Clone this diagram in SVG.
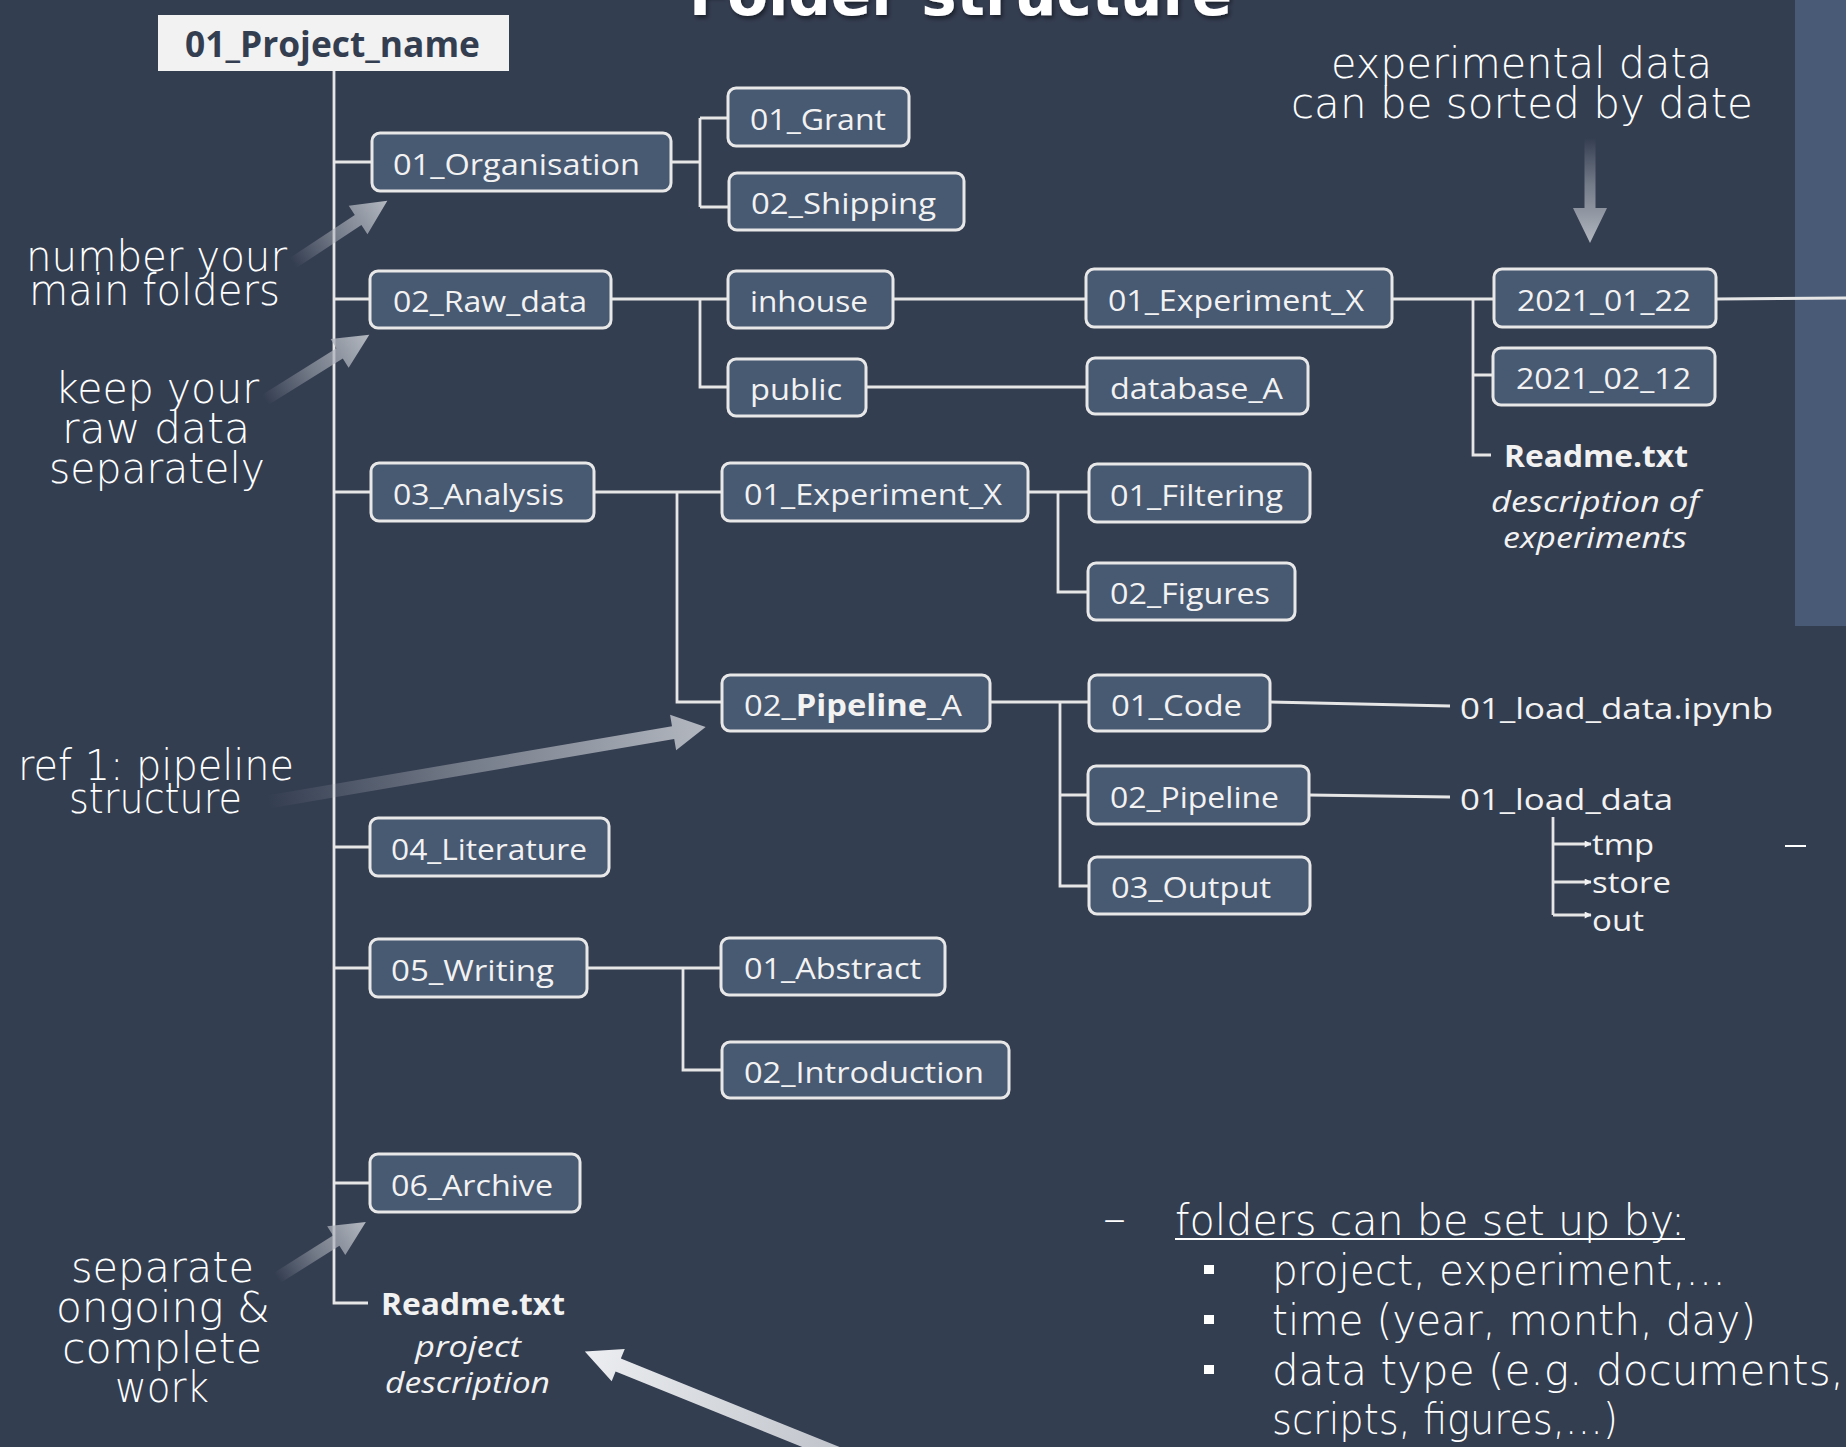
<svg xmlns="http://www.w3.org/2000/svg" width="1846" height="1447" viewBox="0 0 1846 1447">
<style>
.bg{fill:#343e51}
.panel{fill:#485a75}
.box rect{fill:#485972;stroke:#e8e8e8;stroke-width:3}
.box text{font-family:"Open Sans","Noto Sans",sans-serif;font-size:30px;fill:#f2f2f2}
.conn{fill:none;stroke:#e6e6e6;stroke-width:2.8}
.note{font-family:"DejaVu Sans","Lato",sans-serif;font-weight:200;font-size:42px;fill:#ffffff}
.plain{font-family:"Open Sans","Noto Sans",sans-serif;font-size:30px;fill:#f2f2f2}
.bold{font-family:"Open Sans","Noto Sans",sans-serif;font-weight:bold;font-size:31px;fill:#f2f2f2}
.ital{font-family:"Open Sans","Noto Sans",sans-serif;font-style:italic;font-size:30px;fill:#f2f2f2}
.title{font-family:"DejaVu Sans","Lato",sans-serif;font-weight:bold;font-size:60px;fill:#ffffff}
</style>
<defs>
<linearGradient id="fade" x1="0" y1="0" x2="1" y2="0">
<stop offset="0" stop-color="#a9aeb7" stop-opacity="0"/>
<stop offset="0.45" stop-color="#a9aeb7" stop-opacity="0.55"/>
<stop offset="1" stop-color="#b3b8c0" stop-opacity="1"/>
</linearGradient>
<linearGradient id="light" x1="0" y1="0" x2="1" y2="0">
<stop offset="0" stop-color="#bcc0c7"/>
<stop offset="1" stop-color="#eceef1"/>
</linearGradient>
<marker id="tip" viewBox="0 0 10 10" refX="9" refY="5" markerWidth="8" markerHeight="7" orient="auto" markerUnits="userSpaceOnUse">
<path d="M0,0 L10,5 L0,10 z" fill="#f2f2f2"/>
</marker>
<filter id="shadow" x="-5%" y="-50%" width="110%" height="200%">
<feDropShadow dx="2" dy="3" stdDeviation="2" flood-color="#000000" flood-opacity="0.45"/>
</filter>
</defs>

<rect class="bg" x="0" y="0" width="1846" height="1447"/>
<rect class="panel" x="1795" y="0" width="51" height="626"/>

<text class="title" x="689" y="15" textLength="543" lengthAdjust="spacingAndGlyphs" filter="url(#shadow)">Folder structure</text>

<g id="connectors">
<path class="conn" d="M334,71 V1303 H368"/>
<path class="conn" d="M334,162 H372 M334,299 H370 M334,492 H371 M334,847 H370 M334,968 H370 M334,1183 H370"/>
<path class="conn" d="M671,162 H700 M700,118 V207 M700,118 H728 M700,207 H729"/>
<path class="conn" d="M611,299 H728 M700,299 V387 H728"/>
<path class="conn" d="M893,299 H1086 M866,387 H1087"/>
<path class="conn" d="M1392,299 H1494 M1473,299 V455 H1491 M1473,375 H1493"/>
<path class="conn" d="M1716,299 L1846,298"/>
<path class="conn" d="M594,492 H722 M677,492 V702 H722"/>
<path class="conn" d="M1028,492 H1089 M1058,492 V592 H1088"/>
<path class="conn" d="M990,702 H1089 M1060,702 V886 H1089 M1060,795 H1088"/>
<path class="conn" d="M1270,702 L1450,706 M1309,795 L1450,797"/>
<path class="conn" d="M587,968 H721 M683,968 V1070 H722"/>
<path class="conn" stroke-width="2" d="M1553,817 V915"/>
<path class="conn" stroke-width="2" marker-end="url(#tip)" d="M1553,844 H1591"/>
<path class="conn" stroke-width="2" marker-end="url(#tip)" d="M1553,882 H1591"/>
<path class="conn" stroke-width="2" marker-end="url(#tip)" d="M1553,915 H1591"/>
</g>

<g id="n-root">
<rect x="158" y="15" width="351" height="56" fill="#f2f2f2"/>
<text x="185" y="57" font-family="'Open Sans','Noto Sans',sans-serif" font-weight="bold" font-size="35" fill="#343e51" textLength="295" lengthAdjust="spacingAndGlyphs">01_Project_name</text>
</g>
<g id="n-organisation" class="box"><rect x="372" y="133" width="299" height="58" rx="8"/><text x="393" y="175" textLength="247" lengthAdjust="spacingAndGlyphs">01_Organisation</text></g>
<g id="n-grant" class="box"><rect x="728" y="88" width="181" height="58" rx="8"/><text x="750" y="130" textLength="136" lengthAdjust="spacingAndGlyphs">01_Grant</text></g>
<g id="n-shipping" class="box"><rect x="729" y="173" width="235" height="57" rx="8"/><text x="751" y="214" textLength="185" lengthAdjust="spacingAndGlyphs">02_Shipping</text></g>
<g id="n-raw" class="box"><rect x="370" y="271" width="241" height="57" rx="8"/><text x="393" y="312" textLength="194" lengthAdjust="spacingAndGlyphs">02_Raw_data</text></g>
<g id="n-inhouse" class="box"><rect x="728" y="271" width="165" height="57" rx="8"/><text x="750" y="312" textLength="118" lengthAdjust="spacingAndGlyphs">inhouse</text></g>
<g id="n-public" class="box"><rect x="728" y="359" width="138" height="57" rx="8"/><text x="750" y="400" textLength="92" lengthAdjust="spacingAndGlyphs">public</text></g>
<g id="n-raw-exp" class="box"><rect x="1086" y="269" width="306" height="58" rx="8"/><text x="1108" y="311" textLength="256" lengthAdjust="spacingAndGlyphs">01_Experiment_X</text></g>
<g id="n-database" class="box"><rect x="1087" y="358" width="221" height="56" rx="8"/><text x="1110" y="399" textLength="173" lengthAdjust="spacingAndGlyphs">database_A</text></g>
<g id="n-date1" class="box"><rect x="1494" y="269" width="222" height="58" rx="8"/><text x="1517" y="311" textLength="174" lengthAdjust="spacingAndGlyphs">2021_01_22</text></g>
<g id="n-date2" class="box"><rect x="1493" y="348" width="222" height="57" rx="8"/><text x="1516" y="389" textLength="175" lengthAdjust="spacingAndGlyphs">2021_02_12</text></g>
<g id="n-readme-exp">
<text class="bold" x="1504" y="467" textLength="184" lengthAdjust="spacingAndGlyphs">Readme.txt</text>
<text class="ital" x="1491" y="512" textLength="208" lengthAdjust="spacingAndGlyphs">description of</text>
<text class="ital" x="1503" y="548" textLength="184" lengthAdjust="spacingAndGlyphs">experiments</text>
</g>
<g id="n-analysis" class="box"><rect x="371" y="463" width="223" height="58" rx="8"/><text x="393" y="505" textLength="171" lengthAdjust="spacingAndGlyphs">03_Analysis</text></g>
<g id="n-an-exp" class="box"><rect x="722" y="463" width="306" height="58" rx="8"/><text x="744" y="505" textLength="258" lengthAdjust="spacingAndGlyphs">01_Experiment_X</text></g>
<g id="n-filtering" class="box"><rect x="1089" y="464" width="221" height="58" rx="8"/><text x="1110" y="506" textLength="173" lengthAdjust="spacingAndGlyphs">01_Filtering</text></g>
<g id="n-figures" class="box"><rect x="1088" y="563" width="207" height="57" rx="8"/><text x="1110" y="604" textLength="160" lengthAdjust="spacingAndGlyphs">02_Figures</text></g>
<g id="n-pipeline-a" class="box"><rect x="722" y="675" width="268" height="56" rx="8"/><text x="744" y="716" textLength="218" lengthAdjust="spacingAndGlyphs">02_<tspan font-weight="bold">Pipeline</tspan>_A</text></g>
<g id="n-code" class="box"><rect x="1089" y="675" width="181" height="56" rx="8"/><text x="1111" y="716" textLength="131" lengthAdjust="spacingAndGlyphs">01_Code</text></g>
<g id="n-pipeline" class="box"><rect x="1088" y="766" width="221" height="58" rx="8"/><text x="1110" y="808" textLength="169" lengthAdjust="spacingAndGlyphs">02_Pipeline</text></g>
<g id="n-output" class="box"><rect x="1089" y="857" width="221" height="57" rx="8"/><text x="1111" y="898" textLength="160" lengthAdjust="spacingAndGlyphs">03_Output</text></g>
<g id="n-ipynb"><text class="plain" x="1460" y="719" textLength="313" lengthAdjust="spacingAndGlyphs">01_load_data.ipynb</text></g>
<g id="n-load-data">
<text class="plain" x="1460" y="810" textLength="213" lengthAdjust="spacingAndGlyphs">01_load_data</text>
<text class="plain" x="1592" y="855" textLength="62" lengthAdjust="spacingAndGlyphs">tmp</text>
<text class="plain" x="1592" y="893" textLength="79" lengthAdjust="spacingAndGlyphs">store</text>
<text class="plain" x="1592" y="931" textLength="52" lengthAdjust="spacingAndGlyphs">out</text>
</g>
<g id="n-literature" class="box"><rect x="370" y="818" width="239" height="58" rx="8"/><text x="391" y="860" textLength="196" lengthAdjust="spacingAndGlyphs">04_Literature</text></g>
<g id="n-writing" class="box"><rect x="370" y="939" width="217" height="58" rx="8"/><text x="391" y="981" textLength="163" lengthAdjust="spacingAndGlyphs">05_Writing</text></g>
<g id="n-abstract" class="box"><rect x="721" y="938" width="224" height="57" rx="8"/><text x="744" y="979" textLength="177" lengthAdjust="spacingAndGlyphs">01_Abstract</text></g>
<g id="n-introduction" class="box"><rect x="722" y="1042" width="287" height="56" rx="8"/><text x="744" y="1083" textLength="240" lengthAdjust="spacingAndGlyphs">02_Introduction</text></g>
<g id="n-archive" class="box"><rect x="370" y="1154" width="210" height="58" rx="8"/><text x="391" y="1196" textLength="162" lengthAdjust="spacingAndGlyphs">06_Archive</text></g>
<g id="n-readme-project">
<text class="bold" x="381" y="1315" textLength="184" lengthAdjust="spacingAndGlyphs">Readme.txt</text>
<text class="ital" x="415" y="1357" textLength="106" lengthAdjust="spacingAndGlyphs">project</text>
<text class="ital" x="385" y="1393" textLength="165" lengthAdjust="spacingAndGlyphs">description</text>
</g>

<g id="annotations">
<text class="note" x="26" y="271" textLength="261" lengthAdjust="spacingAndGlyphs">number your</text>
<text class="note" x="29" y="305" textLength="251" lengthAdjust="spacingAndGlyphs">main folders</text>
<text class="note" x="55" y="403" textLength="204" lengthAdjust="spacingAndGlyphs">keep your</text>
<text class="note" x="62" y="443" textLength="188" lengthAdjust="spacingAndGlyphs">raw data</text>
<text class="note" x="49" y="483" textLength="216" lengthAdjust="spacingAndGlyphs">separately</text>
<text class="note" x="18" y="780" textLength="276" lengthAdjust="spacingAndGlyphs">ref 1: pipeline</text>
<text class="note" x="69" y="813" textLength="173" lengthAdjust="spacingAndGlyphs">structure</text>
<text class="note" x="71" y="1282" textLength="183" lengthAdjust="spacingAndGlyphs">separate</text>
<text class="note" x="56" y="1322" textLength="214" lengthAdjust="spacingAndGlyphs">ongoing &amp;</text>
<text class="note" x="62" y="1363" textLength="200" lengthAdjust="spacingAndGlyphs">complete</text>
<text class="note" x="115" y="1402" textLength="94" lengthAdjust="spacingAndGlyphs">work</text>
<text class="note" x="1331" y="78" textLength="381" lengthAdjust="spacingAndGlyphs">experimental data</text>
<text class="note" x="1291" y="118" textLength="462" lengthAdjust="spacingAndGlyphs">can be sorted by date</text>
<text class="note" x="1103" y="1233" textLength="23" lengthAdjust="spacingAndGlyphs">–</text>
<text class="note" x="1175" y="1235" textLength="510" lengthAdjust="spacingAndGlyphs">folders can be set up by:</text>
<rect x="1175" y="1238" width="510" height="2" fill="#ffffff"/>
<rect x="1204" y="1265" width="10" height="9" fill="#ffffff"/>
<rect x="1204" y="1315" width="10" height="9" fill="#ffffff"/>
<rect x="1204" y="1365" width="10" height="9" fill="#ffffff"/>
<text class="note" x="1272" y="1285" textLength="454" lengthAdjust="spacingAndGlyphs">project, experiment,…</text>
<text class="note" x="1272" y="1335" textLength="484" lengthAdjust="spacingAndGlyphs">time (year, month, day)</text>
<text class="note" x="1272" y="1385" textLength="572" lengthAdjust="spacingAndGlyphs">data type (e.g. documents,</text>
<text class="note" x="1272" y="1434" textLength="346" lengthAdjust="spacingAndGlyphs">scripts, figures,…)</text>
<rect x="1785" y="845" width="21" height="2" fill="#ffffff"/>
</g>

<g id="arrows">
<polygon fill="url(#fade)" transform="translate(293,263) rotate(-33.4)" points="0,-6 78,-6 78,-17 113,0 78,17 78,6 0,6"/>
<polygon fill="url(#fade)" transform="translate(265,400) rotate(-32)" points="0,-6 88,-6 88,-17 123,0 88,17 88,6 0,6"/>
<polygon fill="url(#fade)" transform="translate(268,802) rotate(-9.72)" points="0,-6.5 411,-6.5 411,-18 444,0 411,18 411,6.5 0,6.5"/>
<polygon fill="url(#fade)" transform="translate(277,1278) rotate(-32.2)" points="0,-6 70,-6 70,-17 105,0 70,17 70,6 0,6"/>
<polygon fill="url(#fade)" transform="translate(1590,138) rotate(90)" points="0,-5.5 70,-5.5 70,-17 105,0 70,17 70,5.5 0,5.5"/>
<polygon fill="url(#light)" transform="translate(863,1464) rotate(202)" points="0,-7 264,-7 264,-17.5 300,0 264,17.5 264,7 0,7"/>
</g>
</svg>
